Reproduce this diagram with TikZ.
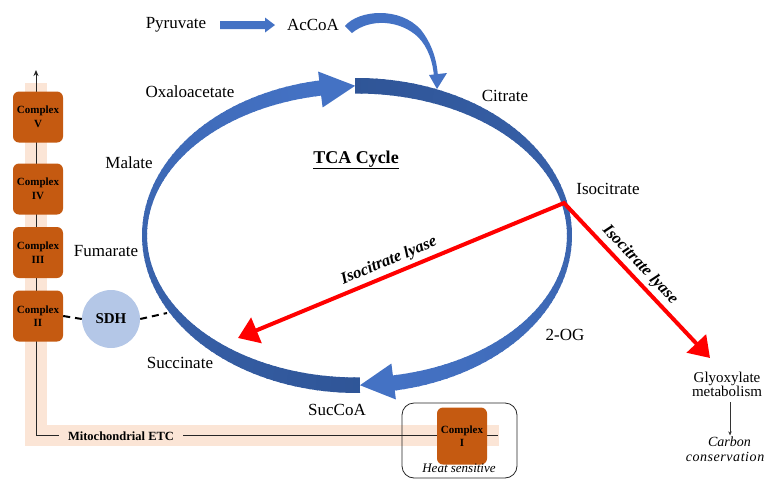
\documentclass[tikz,border=0pt]{standalone}
\usepackage{fontspec}
\setmainfont{Liberation Serif}
\usetikzlibrary{arrows.meta}
\definecolor{tcalight}{HTML}{4472C4}
\definecolor{tcadark}{HTML}{2F5597}
\definecolor{peach}{HTML}{FBE5D6}
\definecolor{cplx}{HTML}{C55A11}
\definecolor{sdhblue}{HTML}{B4C7E7}
\definecolor{lyasered}{HTML}{FF0000}
\newcommand\myfs[1]{\fontsize{#1}{#1}\selectfont}
\newcommand\myfsl[2]{\fontsize{#1}{#2}\selectfont}
\def\cx{357}\def\cy{235.5}
\def\ERx{215}\def\ERy{157.5}
\def\eIx{210}\def\eIy{142}
\def\EMx{212.5}\def\EMy{149.75}
\begin{document}
\begin{tikzpicture}[x=1pt,y=-1pt,
  lbl/.style={font=\myfs{17}, inner sep=1pt},
  cplxbox/.style={fill=cplx, rounded corners=6pt, minimum width=50pt, minimum height=51pt,
     align=center, font=\bfseries\myfsl{11}{13.5}, inner sep=0pt},
  lyase/.style={font=\bfseries\itshape\myfs{16.5}, inner sep=1pt},
  etcline/.style={draw=black!85, line width=1pt},
  dashline/.style={line width=2pt, dash pattern=on 7pt off 5pt}]
\useasboundingbox (0,0) rectangle (769,480);

% ETC background band
\fill[peach] (25,83) rectangle (47,446);
\fill[peach] (25,425) rectangle (499,446);
\coordinate (etcc) at (36,435);
\coordinate (etctop) at (36,70);
\coordinate (etcend) at (498,435);
\draw[etcline, -{Stealth[length=6pt,width=5pt]}] (etcc) -- (etctop);
\draw[etcline] (etcc) -- (etcend);
\node[fill=peach, font=\bfseries\myfs{12.5}, inner xsep=9pt, inner ysep=3pt] (etc) at (121,436) {Mitochondrial ETC};

% complexes
\node[cplxbox] (c5) at (38,117) {Complex\\V};
\node[cplxbox] (c4) at (38,189) {Complex\\IV};
\node[cplxbox] (c3) at (38,252.5) {Complex\\III};
\node[cplxbox] (c2) at (38,316) {Complex\\II};
\node[draw=black!85, line width=0.8pt, rounded corners=12pt, minimum width=115pt, minimum height=75pt] (heat) at (459.5,440.5) {};
\node[cplxbox, minimum height=57pt] (c1) at (462,436) {Complex\\I};
\node[font=\itshape\myfs{13}, inner sep=1pt] (heatlbl) at (459,468) {Heat sensitive};

% SDH
\node[circle, fill=sdhblue, minimum size=58pt, inner sep=0pt, font=\bfseries\myfs{15}] (sdh) at (111,319) {SDH};
\coordinate (ellL) at (167,313);
\draw[dashline] (c2.east) -- (sdh.west);
\draw[dashline] (sdh.east) -- (ellL);

% TCA cycle: arrow 1 (bottom -> left -> top)
\foreach \a in {99,101,...,269}{
  \pgfmathsetmacro\b{min(\a+2.5,270.8)}
  \pgfmathtruncatemacro\p{(\a-99)/1.72}
  \fill[tcadark!\p!tcalight] ({\cx+\ERx*cos(\a)},{\cy-\ERy*sin(\a)}) -- ({\cx+\ERx*cos(\b)},{\cy-\ERy*sin(\b)})
     -- ({\cx+\eIx*cos(\b)},{\cy-\eIy*sin(\b)}) -- ({\cx+\eIx*cos(\a)},{\cy-\eIy*sin(\a)}) -- cycle;
}
% arrow 2 (top -> right -> bottom)
\foreach \a in {91,89,...,-79}{
  \pgfmathsetmacro\s{min(\a,90.5)}
  \pgfmathsetmacro\b{max(\a-2.5,-80.5)}
  \pgfmathtruncatemacro\p{(\a+80)/1.71}
  \fill[tcadark!\p!tcalight] ({\cx+\ERx*cos(\s)},{\cy-\ERy*sin(\s)}) -- ({\cx+\ERx*cos(\b)},{\cy-\ERy*sin(\b)})
     -- ({\cx+\eIx*cos(\b)},{\cy-\eIy*sin(\b)}) -- ({\cx+\eIx*cos(\s)},{\cy-\eIy*sin(\s)}) -- cycle;
}
% arrowheads
\fill[tcalight] ({\cx+(\ERx+9)*cos(100)},{\cy-(\ERy+9)*sin(100)}) -- ({\cx+\EMx*cos(90.5)},{\cy-\EMy*sin(90.5)})
   -- ({\cx+(\eIx-12)*cos(100)},{\cy-(\eIy-12)*sin(100)}) -- cycle;
\fill[tcalight] ({\cx+(\ERx+9)*cos(-80)},{\cy-(\ERy+9)*sin(-80)}) -- ({\cx+\EMx*cos(-89.2)},{\cy-\EMy*sin(-89.2)})
   -- ({\cx+(\eIx-12)*cos(-80)},{\cy-(\eIy-12)*sin(-80)}) -- cycle;

% Pyruvate -> AcCoA
\node[lbl] (pyr) at (176,25) {Pyruvate};
\node[lbl] (accoa) at (313,25) {AcCoA};
\fill[tcalight] (220,21) -- (265,21) -- (265,17.5) -- (275,25) -- (265,32.5) -- (265,29) -- (220,29) -- cycle;
% AcCoA -> Citrate curved arrow
\fill[tcalight] (345,26) .. controls (358,10) and (400,6) .. (421,30)
   .. controls (432,44) and (437,60) .. (438,77) -- (434,77)
   .. controls (433,62) and (428,47) .. (418,37)
   .. controls (400,20) and (370,18) .. (352,33) -- cycle;
\fill[tcalight] (429,75) -- (447,73) -- (437,89) -- cycle;

% metabolite labels
\node[lbl] (oaa) at (190,92) {Oxaloacetate};
\node[lbl] (cit) at (505,96) {Citrate};
\node[lbl] (iso) at (608,189) {Isocitrate};
\node[lbl] (mal) at (129,163) {Malate};
\node[lbl] (fum) at (106,251) {Fumarate};
\node[lbl] (suc) at (180,363) {Succinate};
\node[lbl] (succoa) at (337,410) {SucCoA};
\node[lbl] (og) at (565,335) {2-OG};
\node[font=\bfseries\myfs{18}, inner sep=1pt] (tca) at (356,160) {\underline{TCA Cycle}};

% isocitrate lyase arrows
\coordinate (isoj) at (564,203);
\coordinate (lyL) at (238,338);
\coordinate (lyR) at (710,358);
\draw[lyasered, line width=4pt, line join=miter,
  {Triangle[length=20pt,width=27pt]}-{Triangle[length=20pt,width=26pt]}] (lyL) -- (isoj) -- (lyR);
\node[lyase, rotate=22.5] (lyaseL) at (389,261) {Isocitrate lyase};
\node[lyase, rotate=-46.7] (lyaseR) at (640,265) {Isocitrate lyase};

% glyoxylate
\node[font=\myfs{15}, align=center, inner sep=1pt] (gly) at (727,384) {Glyoxylate\\[-1pt]metabolism};
\node[font=\itshape\myfs{14}, align=center, inner sep=1pt] (carb) at (725,449) {\hspace*{9pt}Carbon\\[1pt]\addfontfeature{LetterSpace=4}conservation};
\coordinate (g1) at (730,402);
\draw[black!80, line width=0.6pt, -{Stealth[length=4pt,width=3.5pt]}] (g1) -- (g1 |- carb.north);
\end{tikzpicture}
\end{document}
